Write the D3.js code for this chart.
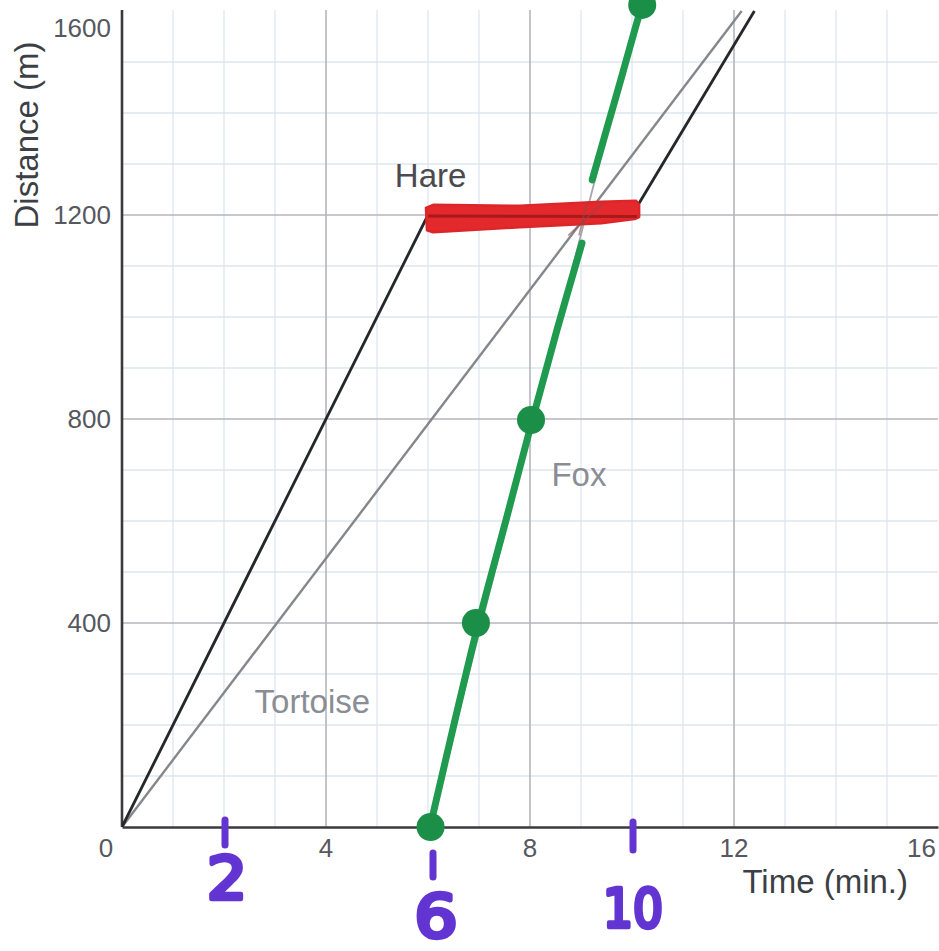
<!DOCTYPE html>
<html>
<head>
<meta charset="utf-8">
<script src="https://cdn.jsdelivr.net/npm/d3@7/dist/d3.min.js"></script>
<style>
  html, body { margin: 0; padding: 0; background: #ffffff; }
  svg { display: block; }
</style>
</head>
<body>
<svg id="chart" width="939" height="951"></svg>
<script>
// ---------------- data ----------------
const xTicks = [4, 8, 12, 16];
const yTicks = [400, 800, 1200, 1600];
const hare = [[0, 0], [6, 1200], [10, 1200], [12.4, 1600]];
const tortoise = [[0, 0], [12.15, 1600]];
const foxLine = [[6.03, 0], [10.12, 1600]];
// hand-traced green marker (two strokes, gap around the crossing)
const foxMarkLow = [[6.04, 0], [6.53, 210], [6.98, 396], [7.53, 602], [8.04, 796], [8.53, 975], [9.02, 1145]];
const foxMarkHigh = [[9.22, 1269], [9.5, 1367], [9.8, 1472], [10.08, 1572], [10.2, 1612]];
const foxDots = [[6.05, 0], [6.94, 400], [8.02, 798], [10.2, 1612]];
// red highlighter over hare's rest
const restMark = [[5.96, 1214], [6.1, 1220], [7.8, 1218], [9.4, 1226], [10.08, 1228], [10.14, 1220],
                  [10.14, 1196], [10.05, 1192], [9.4, 1184], [7.8, 1176], [6.1, 1166], [5.98, 1170]];
const restLine = [[6, 1198], [10.1, 1197]];
// purple hand annotations
const annotTicks = [2, 6, 10];
const annotLabels = ["2", "6", "10"];
const seriesLabels = [
  {text: "Hare", x: 5.35, y: 1255, color: "#4a4a4f"},
  {text: "Fox", x: 8.42, y: 668, color: "#8a8d94"},
  {text: "Tortoise", x: 2.6, y: 224, color: "#8a8d94"}
];

// ---------------- layout ----------------
const svg = d3.select("#chart");
const x = d3.scaleLinear().domain([0, 16]).range([122, 938]);
const y = d3.scaleLinear().domain([0, 1600]).range([827, 11]);
const font = "'Liberation Sans', Arial, sans-serif";

svg.append("defs").append("clipPath").attr("id", "plotclip")
  .append("rect").attr("x", x(0)).attr("y", 10).attr("width", x(16) - x(0)).attr("height", y(0) - 10);

// minor grid
const minorX = d3.range(1, 17).filter(v => v % 4 !== 0);
const minorY = d3.range(100, 1601, 100).filter(v => v % 400 !== 0);
const grid = svg.append("g");
grid.selectAll(".mx").data(minorX).join("line")
  .attr("x1", d => x(d)).attr("x2", d => x(d)).attr("y1", 10).attr("y2", y(0))
  .attr("stroke", "#dde6ee").attr("stroke-width", 1.3);
grid.selectAll(".my").data(minorY).join("line")
  .attr("x1", x(0)).attr("x2", x(16)).attr("y1", d => y(d)).attr("y2", d => y(d))
  .attr("stroke", "#dde6ee").attr("stroke-width", 1.3);
// major grid
grid.selectAll(".Mx").data(xTicks.filter(v => v < 16)).join("line")
  .attr("x1", d => x(d)).attr("x2", d => x(d)).attr("y1", 10).attr("y2", y(0))
  .attr("stroke", "#b4b6bd").attr("stroke-width", 1.6);
grid.selectAll(".My").data(yTicks.filter(v => v < 1600)).join("line")
  .attr("x1", x(0)).attr("x2", x(16)).attr("y1", d => y(d)).attr("y2", d => y(d))
  .attr("stroke", "#b4b6bd").attr("stroke-width", 1.6);

// axes lines
const xAxis = d3.axisBottom(x).tickValues([]).tickSizeOuter(0);
const yAxis = d3.axisLeft(y).tickValues([]).tickSizeOuter(0);
const gx = svg.append("g").attr("transform", `translate(0,${y(0)})`).call(xAxis);
gx.select(".domain").attr("stroke", "#3a3a3e").attr("stroke-width", 2.6);
const gy = svg.append("g").attr("transform", `translate(${x(0)},0)`).call(yAxis);
gy.select(".domain").attr("stroke", "#3a3a3e").attr("stroke-width", 2.6)
  .attr("d", `M0,10V${y(0)}`);

// tick labels
svg.append("g").selectAll("text").data(xTicks).join("text")
  .attr("x", d => d === 16 ? x(d) - 2 : x(d))
  .attr("y", 857)
  .attr("text-anchor", d => d === 16 ? "end" : "middle")
  .attr("font-family", font).attr("font-size", 26).attr("fill", "#55585e")
  .text(d => d);
svg.append("text").attr("x", x(0) - 16).attr("y", 857).attr("text-anchor", "middle")
  .attr("font-family", font).attr("font-size", 26).attr("fill", "#55585e").text("0");
svg.append("g").selectAll("text").data(yTicks).join("text")
  .attr("x", x(0) - 11)
  .attr("y", d => Math.max(y(d), 28))
  .attr("dy", "0.36em")
  .attr("text-anchor", "end")
  .attr("font-family", font).attr("font-size", 26).attr("fill", "#55585e")
  .text(d => d);

// axis titles
svg.append("text").attr("transform", "translate(38,135) rotate(-90)")
  .attr("text-anchor", "middle").attr("font-family", font).attr("font-size", 33)
  .attr("fill", "#3c3f45").text("Distance (m)");
svg.append("text").attr("x", 908).attr("y", 893).attr("text-anchor", "end")
  .attr("font-family", font).attr("font-size", 33).attr("fill", "#3c3f45").text("Time (min.)");

// series lines
const line = d3.line().x(d => x(d[0])).y(d => y(d[1]));
const plot = svg.append("g").attr("clip-path", "url(#plotclip)");
plot.append("path").attr("d", line(foxLine)).attr("fill", "none")
  .attr("stroke", "#a3a6ac").attr("stroke-width", 1.8);
plot.append("path").attr("d", line(tortoise)).attr("fill", "none")
  .attr("stroke", "#85878c").attr("stroke-width", 2.4);
plot.append("path").attr("d", line(hare)).attr("fill", "none")
  .attr("stroke", "#26272b").attr("stroke-width", 2.8);

// series labels
svg.append("g").selectAll("text").data(seriesLabels).join("text")
  .attr("x", d => x(d.x)).attr("y", d => y(d.y))
  .attr("font-family", font).attr("font-size", 33).attr("fill", d => d.color)
  .text(d => d.text);

// red highlighter
svg.append("path").attr("d", line(restMark) + "Z")
  .attr("fill", "#e3292c").attr("stroke", "#dc2629").attr("stroke-width", 2.5)
  .attr("stroke-linejoin", "round");
svg.append("path").attr("d", line(restLine)).attr("fill", "none")
  .attr("stroke", "#9a1519").attr("stroke-width", 3).attr("opacity", 0.8);
// tortoise / fox visible through the highlighter
svg.append("path").attr("d", line([[8.75, 1160], [9.45, 1225]])).attr("fill", "none")
  .attr("stroke", "#8a4a4a").attr("stroke-width", 1.6).attr("opacity", 0.6);
svg.append("path").attr("d", line([[8.96, 1160], [9.12, 1225]])).attr("fill", "none")
  .attr("stroke", "#8a4a4a").attr("stroke-width", 1.6).attr("opacity", 0.6);

// green marker
const smooth = d3.line().x(d => x(d[0])).y(d => y(d[1])).curve(d3.curveCatmullRom);
[foxMarkLow, foxMarkHigh].forEach(seg => {
  svg.append("path").attr("d", smooth(seg)).attr("fill", "none")
    .attr("stroke", "#1f9a4e").attr("stroke-width", 7).attr("stroke-linecap", "round");
});
svg.append("g").selectAll("circle").data(foxDots).join("circle")
  .attr("cx", d => x(d[0])).attr("cy", d => y(d[1])).attr("r", 14)
  .attr("fill", "#1b8f47");

// purple annotations
const purple = "#6234d2";
const tickSpans = {2: [820, 845], 6: [853, 877], 10: [822, 850]};
svg.append("g").selectAll("line").data(annotTicks).join("line")
  .attr("x1", d => x(d) + (d === 6 ? 5 : 1)).attr("x2", d => x(d) + (d === 6 ? 5 : 1))
  .attr("y1", d => tickSpans[d][0]).attr("y2", d => tickSpans[d][1])
  .attr("stroke", purple).attr("stroke-width", 7).attr("stroke-linecap", "round");
const annotStyle = {2: {size: 58, y: 899, dx: 3, len: 40}, 6: {size: 58, y: 937, dx: 8, len: 43}, 10: {size: 54, y: 927, dx: 1, len: 60}};
svg.append("g").selectAll("text").data(annotTicks).join("text")
  .attr("x", d => x(d) + annotStyle[d].dx).attr("y", d => annotStyle[d].y)
  .attr("text-anchor", "middle")
  .attr("textLength", d => annotStyle[d].len).attr("lengthAdjust", "spacingAndGlyphs")
  .attr("font-family", "'DejaVu Sans', sans-serif")
  .attr("font-size", d => annotStyle[d].size)
  .attr("fill", purple).attr("stroke", purple).attr("stroke-width", 4.5)
  .attr("stroke-linejoin", "round").attr("stroke-linecap", "round")
  .text((d, i) => annotLabels[i]);
</script>
</body>
</html>
